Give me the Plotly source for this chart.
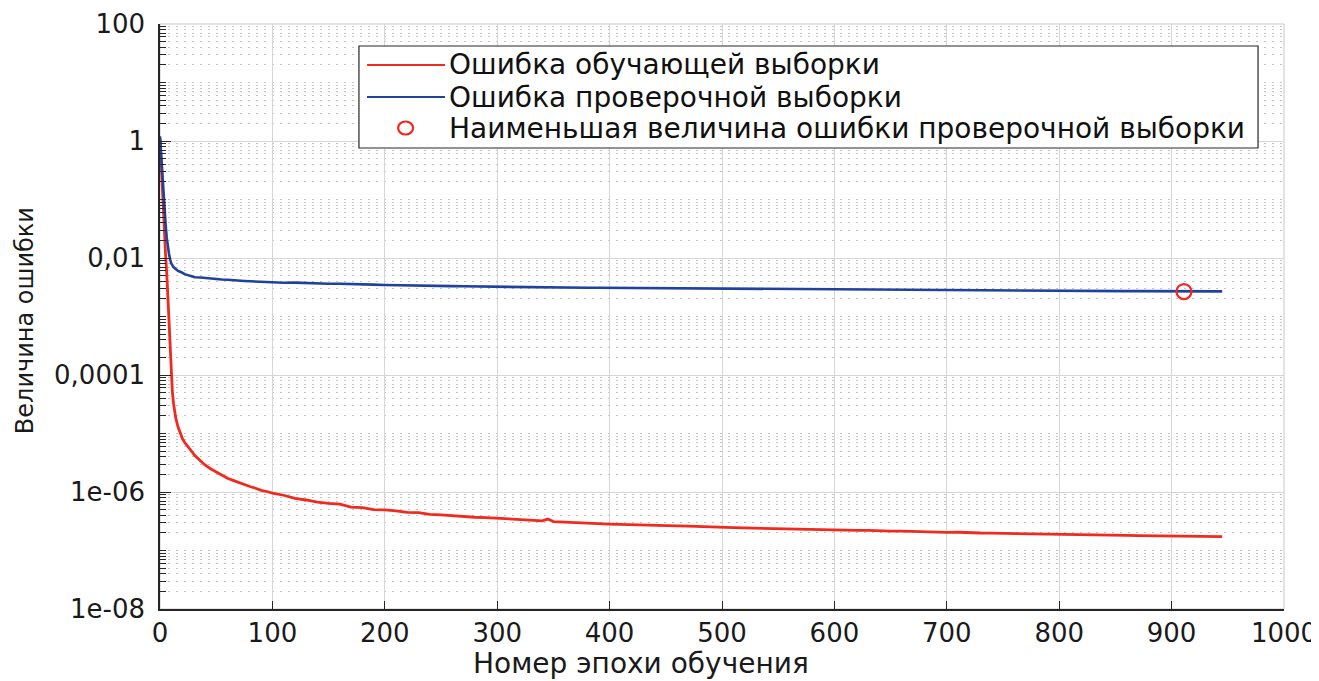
import plotly.graph_objects as go

# ---------------- data ----------------
train_epochs = [0, 1, 2, 3, 4, 5, 6, 7, 8, 9, 10, 11, 12, 13, 14, 16, 18, 20, 22, 25, 28, 31, 35, 40, 45,
                50, 55, 60, 65, 70, 75, 80, 85, 90, 95, 100, 110, 120, 130, 140, 150, 160, 170, 180, 190,
                200, 210, 220, 230, 240, 250, 260, 270, 280, 290, 300, 310, 320, 330, 340, 345, 350, 360,
                370, 380, 390, 400, 410, 420, 430, 440, 450, 460, 470, 480, 490, 500, 510, 520, 530, 540,
                550, 560, 570, 580, 590, 600, 610, 620, 630, 640, 650, 660, 670, 680, 690, 700, 710, 720,
                730, 740, 750, 760, 770, 780, 790, 800, 810, 820, 830, 840, 850, 860, 870, 880, 890, 900,
                910, 920, 930, 940, 945]
train_error = [1.1, 0.4, 0.13, 0.05, 0.022, 0.011, 0.0055, 0.0022, 7e-4, 2.5e-4, 1e-4, 5.2e-5, 3.3e-5,
               2.4e-5, 1.85e-5, 1.3e-5, 9.8e-6, 8.1e-6, 7.0e-6, 5.8e-6, 5.0e-6, 4.2e-6, 3.6e-6, 2.9e-6,
               2.5e-6, 2.2e-6, 1.95e-6, 1.72e-6, 1.58e-6, 1.45e-6, 1.36e-6, 1.24e-6, 1.16e-6, 1.07e-6,
               1.02e-6, 9.6e-7, 8.8e-7, 7.8e-7, 7.3e-7, 6.7e-7, 6.4e-7, 6.2e-7, 5.5e-7, 5.4e-7, 5.0e-7,
               4.95e-7, 4.75e-7, 4.5e-7, 4.45e-7, 4.15e-7, 4.05e-7, 3.9e-7, 3.85e-7, 3.7e-7, 3.65e-7,
               3.55e-7, 3.48e-7, 3.38e-7, 3.3e-7, 3.22e-7, 3.45e-7, 3.12e-7, 3.05e-7, 3.02e-7, 2.92e-7,
               2.88e-7, 2.82e-7, 2.8e-7, 2.74e-7, 2.72e-7, 2.7e-7, 2.66e-7, 2.63e-7, 2.6e-7, 2.55e-7,
               2.52e-7, 2.46e-7, 2.47e-7, 2.43e-7, 2.4e-7, 2.39e-7, 2.34e-7, 2.36e-7, 2.3e-7, 2.26e-7,
               2.28e-7, 2.25e-7, 2.22e-7, 2.2e-7, 2.21e-7, 2.16e-7, 2.15e-7, 2.14e-7, 2.1e-7, 2.08e-7,
               2.07e-7, 2.04e-7, 2.05e-7, 2.0e-7, 1.99e-7, 1.98e-7, 1.96e-7, 1.95e-7, 1.92e-7, 1.91e-7,
               1.9e-7, 1.87e-7, 1.88e-7, 1.85e-7, 1.84e-7, 1.83e-7, 1.82e-7, 1.81e-7, 1.8e-7, 1.79e-7,
               1.8e-7, 1.77e-7, 1.76e-7, 1.75e-7, 1.74e-7, 1.73e-7, 1.72e-7]

val_epochs = [0, 1, 2, 3, 4, 5, 6, 7, 8, 9, 10, 12, 14, 16, 19, 22, 26, 31, 36, 42, 48, 55, 60, 67, 75,
              80, 90, 100, 110, 120, 130, 140, 150, 160, 170, 180, 190, 200, 210, 220, 230, 240, 250, 260,
              270, 280, 290, 300, 310, 320, 330, 340, 350, 360, 370, 380, 390, 400, 410, 420, 430, 440,
              450, 460, 470, 480, 490, 500, 510, 520, 530, 540, 550, 560, 570, 580, 590, 600, 610, 620,
              630, 640, 650, 660, 670, 680, 690, 700, 710, 720, 730, 740, 750, 760, 770, 780, 790, 800,
              810, 820, 830, 840, 850, 860, 870, 880, 890, 900, 911, 920, 930, 940, 945]
val_error = [1.2, 0.55, 0.3, 0.16, 0.075, 0.038, 0.022, 0.015, 0.0118, 0.0095, 0.0081, 0.0070, 0.0064,
             0.0060, 0.0057, 0.0053, 0.0050, 0.0047, 0.00465, 0.0045, 0.00445, 0.0043, 0.00425, 0.0041,
             0.00405, 0.0040, 0.0039, 0.00385, 0.00378, 0.0038, 0.00372, 0.00368, 0.00362, 0.00364,
             0.00356, 0.00352, 0.0035, 0.00345, 0.00344, 0.0034, 0.00338, 0.00334, 0.00332, 0.0033,
             0.00328, 0.00326, 0.00322, 0.00318, 0.00319, 0.00316, 0.00317, 0.00314, 0.00313, 0.00312,
             0.00313, 0.0031, 0.0031, 0.00309, 0.00307, 0.00308, 0.00305, 0.00304, 0.00303, 0.00301,
             0.003, 0.00298, 0.00297, 0.00295, 0.00296, 0.00294, 0.00293, 0.00292, 0.00291, 0.0029,
             0.00289, 0.0029, 0.00288, 0.00288, 0.00287, 0.00286, 0.00285, 0.00284, 0.00283, 0.00284,
             0.00282, 0.00281, 0.0028, 0.0028, 0.00279, 0.00278, 0.00277, 0.00277, 0.00276, 0.00275,
             0.00275, 0.00274, 0.00273, 0.00272, 0.00273, 0.00272, 0.00272, 0.00271, 0.00272, 0.00271,
             0.00271, 0.0027, 0.00271, 0.0027, 0.00267, 0.0027, 0.00269, 0.00269, 0.00269]

best_epoch = [911]
best_error = [0.00267]

x_ticks = [0, 100, 200, 300, 400, 500, 600, 700, 800, 900, 1000]
y_ticks = [100, 1, 0.01, 0.0001, 1e-6, 1e-8]
y_tick_text = ["100", "1", "0,01", "0,0001", "1e-06", "1e-08"]

legend_labels = ["Ошибка обучающей выборки",
                 "Ошибка проверочной выборки",
                 "Наименьшая величина ошибки проверочной выборки"]
x_title = "Номер эпохи обучения"
y_title = "Величина ошибки"

# ---------------- styling ----------------
RED = "#F02A1E"
BLUE = "#1F42A0"
DARK = "#262626"
FONT = "DejaVu Sans"

y_minor = [k * 10.0 ** d for d in range(-8, 2) for k in range(1, 10)
           if not (k == 1 and d % 2 == 0)]

fig = go.Figure()
fig.add_trace(go.Scatter(x=train_epochs, y=train_error, mode="lines",
                         line=dict(color=RED, width=2.8), name=legend_labels[0], showlegend=False))
fig.add_trace(go.Scatter(x=val_epochs, y=val_error, mode="lines",
                         line=dict(color=BLUE, width=2.6), name=legend_labels[1], showlegend=False))
fig.add_trace(go.Scatter(x=best_epoch, y=best_error, mode="markers",
                         marker=dict(symbol="circle-open", size=15, color=RED, line=dict(width=2.2)),
                         name=legend_labels[2], showlegend=False))

fig.update_xaxes(range=[0, 1000], tickvals=x_ticks, ticks="inside", ticklen=8, tickwidth=1.2,
                 tickcolor=DARK, showline=True, linecolor=DARK, linewidth=1.5, showgrid=True,
                 gridcolor="#d6d6d6", gridwidth=1, zeroline=False, automargin=False,
                 ticklabelstandoff=0,
                 tickfont=dict(family=FONT, size=26, color="#1a1a1a"))
fig.update_yaxes(type="log", range=[-8, 2], tickvals=y_ticks, ticktext=y_tick_text,
                 ticks="inside", ticklen=11, tickwidth=1.2, tickcolor=DARK, showline=True,
                 linecolor=DARK, linewidth=1.5, showgrid=True, gridcolor="#d6d6d6", gridwidth=1,
                 zeroline=False, ticklabelstandoff=8, automargin=False,
                 tickfont=dict(family=FONT, size=26, color="#1a1a1a"),
                 minor=dict(tickvals=y_minor, ticks="inside", ticklen=6, tickwidth=1, tickcolor=DARK,
                            showgrid=True, gridcolor="#c4c4c4", gridwidth=1, griddash="2px,6px"))

shapes = [
    dict(type="rect", xref="paper", yref="paper", x0=0, x1=1, y0=0, y1=1,
         line=dict(color="#c8c8c8", width=1), layer="below"),
    # legend box
    dict(type="rect", xref="paper", yref="paper", x0=0.1770, x1=0.9769, y0=0.7880, y1=0.9624,
         line=dict(color=DARK, width=1.2), fillcolor="white", layer="above"),
    dict(type="line", xref="paper", yref="paper", x0=0.1842, x1=0.2535, y0=0.930, y1=0.930,
         line=dict(color=RED, width=2)),
    dict(type="line", xref="paper", yref="paper", x0=0.1842, x1=0.2535, y0=0.8752, y1=0.8752,
         line=dict(color=BLUE, width=2)),
    dict(type="circle", xref="paper", yref="paper", xsizemode="pixel", ysizemode="pixel",
         xanchor=0.2185, yanchor=0.8222, x0=-7.5, x1=7.5, y0=-6.5, y1=6.5,
         line=dict(color=RED, width=2.2)),
]

annotations = []
for lbl, yy in zip(legend_labels, [0.930, 0.8752, 0.8222]):
    annotations.append(dict(xref="paper", yref="paper", x=0.2555, y=yy, text=lbl, showarrow=False,
                            xanchor="left", yanchor="middle",
                            font=dict(family=FONT, size=28, color="#111111")))
annotations.append(dict(xref="paper", yref="paper", x=0.428, y=-0.094, text=x_title, showarrow=False,
                        xanchor="center", yanchor="middle",
                        font=dict(family=FONT, size=28, color="#1a1a1a")))
annotations.append(dict(xref="paper", yref="paper", x=-0.1201, y=0.492, text=y_title, showarrow=False,
                        textangle=-90, xanchor="center", yanchor="middle",
                        font=dict(family=FONT, size=24, color="#1a1a1a")))

# the page places the figure 8 px from the top-left corner, so the figure is 8 px smaller
fig.update_layout(width=1311, height=673, margin=dict(l=152, r=35, t=16, b=72),
                  paper_bgcolor="white", plot_bgcolor="white", showlegend=False,
                  shapes=shapes, annotations=annotations)

fig.write_html("out.html")
